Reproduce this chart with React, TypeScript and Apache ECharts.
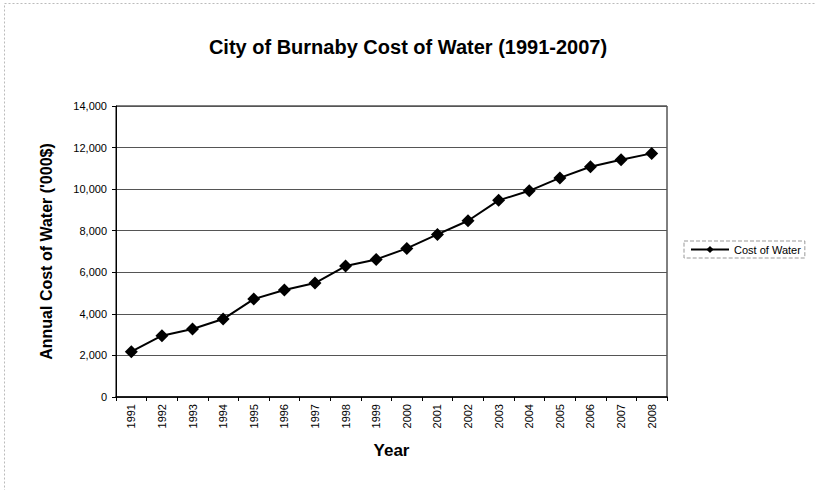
import React, { useEffect, useRef } from "react";
import * as echarts from "echarts";

const years = ["1991","1992","1993","1994","1995","1996","1997","1998","1999","2000","2001","2002","2003","2004","2005","2006","2007","2008"];
const costOfWater = [2180, 2950, 3270, 3750, 4710, 5150, 5480, 6300, 6620, 7150, 7820, 8480, 9460, 9920, 10540, 11080, 11410, 11720];
const yTicks = { min: 0, max: 14000, interval: 2000 };

const FONT = "'Liberation Sans', Arial, sans-serif";

export default function App() {
  const ref = useRef<HTMLDivElement>(null);
  useEffect(() => {
    if (!ref.current) return;
    const chart = echarts.init(ref.current, null, { renderer: "svg" });
    chart.setOption({
      animation: false,
      backgroundColor: "#fff",
      textStyle: { fontFamily: FONT },
      title: {
        text: "City of Burnaby Cost of Water (1991-2007)",
        left: "center",
        top: 32,
        textStyle: { fontFamily: FONT, fontSize: 20, fontWeight: "bold", color: "#000" },
      },
      graphic: [
        {
          type: "rect",
          shape: { x: 4.5, y: 3.5, width: 830, height: 520 },
          style: { fill: "none", stroke: "#bbb", lineWidth: 1, lineDash: [2, 2] },
          silent: true,
        },
      ],
      legend: {
        left: 684,
        top: 241,
        orient: "vertical",
        padding: [3, 4, 3, 6],
        borderColor: "#999",
        borderWidth: 1,
        borderType: "dashed",
        itemWidth: 38,
        itemHeight: 9,
        itemGap: 4,
        textStyle: { fontFamily: FONT, fontSize: 11, color: "#000" },
        data: [{ name: "Cost of Water" }],
      },
      grid: {
        left: 116,
        right: 149,
        top: 106,
        bottom: 93,
        show: true,
        borderColor: "#000",
        borderWidth: 1,
      },
      xAxis: {
        type: "category",
        data: years,
        boundaryGap: true,
        name: "Year",
        nameLocation: "middle",
        nameGap: 45,
        nameTextStyle: { fontFamily: FONT, fontSize: 17, fontWeight: "bold", color: "#000" },
        axisLine: { lineStyle: { color: "#000", width: 1.5 } },
        axisTick: { show: true, alignWithLabel: false, length: 4, lineStyle: { color: "#000" } },
        axisLabel: { rotate: 90, fontFamily: FONT, fontSize: 11, color: "#000", margin: 7 },
        splitLine: { show: false },
      },
      yAxis: {
        type: "value",
        min: yTicks.min,
        max: yTicks.max,
        interval: yTicks.interval,
        name: "Annual Cost of Water ('000$)",
        nameLocation: "middle",
        nameGap: 62,
        nameTextStyle: { fontFamily: FONT, fontSize: 16, fontWeight: "bold", color: "#000" },
        axisLine: { show: true, lineStyle: { color: "#000", width: 1 } },
        axisTick: { show: true, length: 4, lineStyle: { color: "#000" } },
        axisLabel: {
          fontFamily: FONT,
          fontSize: 11,
          color: "#000",
          margin: 9,
          formatter: (v: number) => v.toLocaleString("en-US"),
        },
        splitLine: { show: true, lineStyle: { color: "#555", width: 1 } },
      },
      series: [
        {
          name: "Cost of Water",
          type: "line",
          data: costOfWater,
          symbol: "diamond",
          symbolSize: 13,
          lineStyle: { color: "#000", width: 2 },
          itemStyle: { color: "#000" },
        },
      ],
    });
    return () => chart.dispose();
  }, []);
  return (
    <div
      ref={ref}
      style={{ position: "fixed", left: 0, top: 0, width: 816, height: 490 }}
    />
  );
}
